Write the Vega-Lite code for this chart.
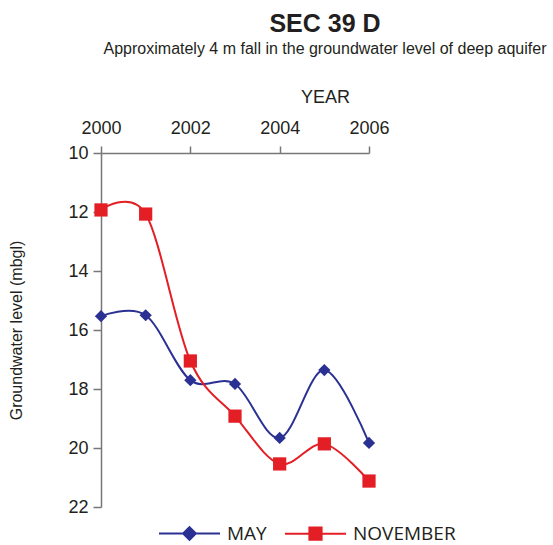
{
  "$schema": "https://vega.github.io/schema/vega-lite/v6.json",
  "autosize": "none",
  "width": 268,
  "height": 354,
  "padding": {"left": 101, "top": 153, "right": 184, "bottom": 38},
  "background": "white",
  "title": {
    "text": "SEC 39 D",
    "subtitle": "Approximately 4 m fall in the groundwater level of deep aquifer",
    "anchor": "middle",
    "frame": "group",
    "dx": 90,
    "font": "Liberation Sans",
    "fontSize": 25,
    "fontWeight": "bold",
    "color": "#231f20",
    "subtitleFont": "Liberation Sans",
    "subtitleFontSize": 16,
    "subtitleColor": "#231f20",
    "subtitlePadding": 4,
    "offset": 31
  },
  "data": {
    "values": [
      {"year": 2000, "series": "MAY", "level": 15.53},
      {"year": 2001, "series": "MAY", "level": 15.5},
      {"year": 2002, "series": "MAY", "level": 17.7},
      {"year": 2003, "series": "MAY", "level": 17.83},
      {"year": 2004, "series": "MAY", "level": 19.66},
      {"year": 2005, "series": "MAY", "level": 17.36},
      {"year": 2006, "series": "MAY", "level": 19.83},
      {"year": 2000, "series": "NOVEMBER", "level": 11.93},
      {"year": 2001, "series": "NOVEMBER", "level": 12.07},
      {"year": 2002, "series": "NOVEMBER", "level": 17.05},
      {"year": 2003, "series": "NOVEMBER", "level": 18.92},
      {"year": 2004, "series": "NOVEMBER", "level": 20.54},
      {"year": 2005, "series": "NOVEMBER", "level": 19.86},
      {"year": 2006, "series": "NOVEMBER", "level": 21.12}
    ]
  },
  "encoding": {
    "x": {
      "field": "year",
      "type": "quantitative",
      "scale": {"domain": [2000, 2006], "nice": false, "zero": false},
      "axis": {
        "orient": "top",
        "values": [2000, 2002, 2004, 2006],
        "format": "d",
        "grid": false,
        "title": "YEAR",
        "titleX": 224,
        "titleY": -56,
        "titleAlign": "center",
        "titleBaseline": "middle",
        "titleFont": "Liberation Sans",
        "titleFontSize": 18,
        "titleFontWeight": "normal",
        "titleColor": "#231f20",
        "labelFont": "Liberation Sans",
        "labelFontSize": 18,
        "labelColor": "#231f20",
        "labelPadding": 9,
        "labelFlush": false,
        "labelOverlap": false,
        "tickSize": 7,
        "tickColor": "#777777",
        "tickWidth": 1.5,
        "domainColor": "#777777",
        "domainWidth": 1.5
      }
    },
    "y": {
      "field": "level",
      "type": "quantitative",
      "scale": {"domain": [10, 22], "reverse": true, "nice": false, "zero": false},
      "axis": {
        "values": [10, 12, 14, 16, 18, 20, 22],
        "grid": false,
        "title": "Groundwater level (mbgl)",
        "titleX": -85,
        "titleY": 177,
        "titleAngle": -90,
        "titleAlign": "center",
        "titleBaseline": "middle",
        "titleFont": "Liberation Sans",
        "titleFontSize": 16,
        "titleFontWeight": "normal",
        "titleColor": "#231f20",
        "labelFont": "Liberation Sans",
        "labelFontSize": 18,
        "labelColor": "#231f20",
        "labelPadding": 5,
        "labelFlush": false,
        "labelOverlap": false,
        "tickSize": 8,
        "tickColor": "#777777",
        "tickWidth": 1.5,
        "domainColor": "#777777",
        "domainWidth": 1.5
      }
    }
  },
  "layer": [
    {
      "transform": [{"filter": "datum.series === 'MAY'"}],
      "mark": {"type": "line", "interpolate": "cardinal", "strokeWidth": 2, "color": "#2b3192"}
    },
    {
      "transform": [{"filter": "datum.series === 'NOVEMBER'"}],
      "mark": {"type": "line", "interpolate": "cardinal", "strokeWidth": 2, "color": "#e31e24"}
    },
    {
      "transform": [{"filter": "datum.series === 'MAY'"}],
      "mark": {"type": "point", "shape": "diamond", "filled": true, "size": 150, "color": "#2b3192", "opacity": 1}
    },
    {
      "transform": [{"filter": "datum.series === 'NOVEMBER'"}],
      "mark": {"type": "point", "shape": "square", "filled": true, "size": 175, "color": "#e31e24", "opacity": 1}
    },
    {
      "mark": {"type": "point", "filled": true, "size": 0, "strokeWidth": 2, "opacity": 1},
      "encoding": {
        "fill": {
          "field": "series",
          "type": "nominal",
          "scale": {"domain": ["MAY", "NOVEMBER"], "range": ["#2b3192", "#e31e24"]},
          "legend": {
            "title": null,
            "orient": "none",
            "direction": "horizontal",
            "legendX": 57,
            "legendY": 349,
            "symbolSize": 3721,
            "symbolStrokeWidth": 2,
            "labelFont": "Open Sans",
            "labelFontSize": 19,
            "labelColor": "#231f20",
            "labelOffset": 6,
            "columnPadding": 14,
            "padding": 0
          }
        },
        "stroke": {
          "field": "series",
          "type": "nominal",
          "scale": {"domain": ["MAY", "NOVEMBER"], "range": ["#2b3192", "#e31e24"]}
        },
        "shape": {
          "field": "series",
          "type": "nominal",
          "scale": {
            "domain": ["MAY", "NOVEMBER"],
            "range": [
              "M-1,0H1M0,-0.21L0.21,0L0,0.21L-0.21,0Z",
              "M-1,0H1M-0.2,-0.2H0.2V0.2H-0.2Z"
            ]
          }
        }
      }
    }
  ],
  "config": {"view": {"stroke": null}}
}
